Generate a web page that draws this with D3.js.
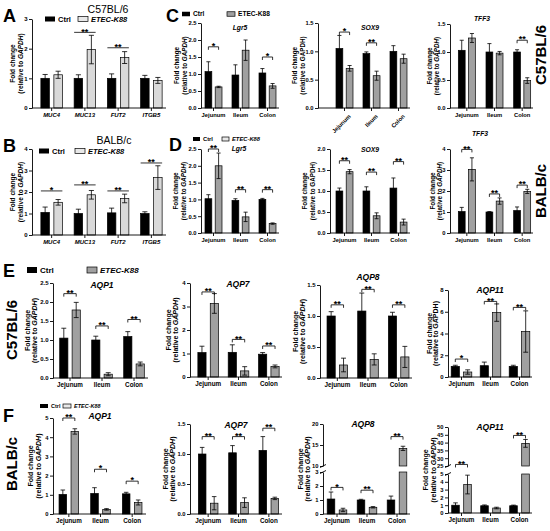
<!DOCTYPE html>
<html>
<head>
<meta charset="utf-8">
<script src="https://cdn.jsdelivr.net/npm/d3@7"></script>
<style>
body { margin: 0; background: #fff; }
svg { font-family: "Liberation Sans", Arial, sans-serif; font-weight: bold; }
</style>
</head>
<body>
<svg width="550" height="531"></svg>
<script>
// ---- data ----
var genesAB = ["MUC4", "MUC13", "FUT2", "ITGB5"];
var regions = ["Jejunum", "Ileum", "Colon"];

var aCtrl = [1.0, 1.0, 1.0, 1.0],    aCtrlSd = [0.13, 0.12, 0.15, 0.1];
var aEtec = [1.12, 1.97, 1.7, 0.93], aEtecSd = [0.12, 0.48, 0.2, 0.1];
var aSig = [{g: "MUC13", y: 2.55, t: "**"}, {g: "FUT2", y: 2.03, t: "**"}];

var bCtrl = [1.05, 1.0, 1.03, 1.0],  bCtrlSd = [0.25, 0.2, 0.22, 0.08];
var bEtec = [1.52, 1.87, 1.7, 2.67], bEtecSd = [0.13, 0.2, 0.2, 0.55];
var bSig = [{g: "MUC4", y: 2.05, t: "*"}, {g: "MUC13", y: 2.33, t: "**"}, {g: "FUT2", y: 2.05, t: "**"}, {g: "ITGB5", y: 3.35, t: "**"}];

var cLgr5Ctrl = [1.07, 0.97, 1.03], cLgr5CtrlSd = [0.29, 0.3, 0.13];
var cLgr5Etec = [0.62, 1.7, 0.65],  cLgr5EtecSd = [0.02, 0.3, 0.07];
var cLgr5Sig = [{g: "Jejunum", y: 1.8, t: "*"}, {g: "Colon", y: 1.5, t: "*"}];

var cSox9Ctrl = [1.05, 0.96, 1.0], cSox9CtrlSd = [0.23, 0.03, 0.1];
var cSox9Etec = [0.7, 0.57, 0.87], cSox9EtecSd = [0.05, 0.08, 0.08];
var cSox9Sig = [{g: "Jejunum", y: 1.34, t: "*"}, {g: "Ileum", y: 1.15, t: "**"}];

var cTff3Ctrl = [1.03, 1.0, 1.0],  cTff3CtrlSd = [0.18, 0.15, 0.04];
var cTff3Etec = [1.25, 0.98, 0.49], cTff3EtecSd = [0.08, 0.03, 0.05];
var cTff3Sig = [{g: "Colon", y: 1.21, t: "**"}];

var dLgr5Ctrl = [1.02, 0.97, 1.0], dLgr5CtrlSd = [0.12, 0.05, 0.03];
var dLgr5Etec = [2.0, 0.48, 0.28], dLgr5EtecSd = [0.38, 0.14, 0.02];
var dLgr5Sig = [{g: "Jejunum", y: 2.5, t: "**"}, {g: "Ileum", y: 1.29, t: "**"}, {g: "Colon", y: 1.29, t: "**"}];

var dSox9Ctrl = [1.0, 1.0, 1.07],  dSox9CtrlSd = [0.07, 0.1, 0.24];
var dSox9Etec = [1.46, 0.41, 0.26], dSox9EtecSd = [0.05, 0.07, 0.07];
var dSox9Sig = [{g: "Jejunum", y: 1.72, t: "**"}, {g: "Ileum", y: 1.45, t: "**"}, {g: "Colon", y: 1.7, t: "**"}];

var dTff3Ctrl = [1.02, 1.0, 1.07], dTff3CtrlSd = [0.2, 0.02, 0.17];
var dTff3Etec = [3.03, 1.52, 1.98], dTff3EtecSd = [0.55, 0.15, 0.1];
var dTff3Sig = [{g: "Jejunum", y: 3.98, t: "**"}, {g: "Ileum", y: 1.86, t: "**"}, {g: "Colon", y: 2.28, t: "**"}];

var eAqp1Ctrl = [1.05, 1.0, 1.09], eAqp1CtrlSd = [0.26, 0.1, 0.13];
var eAqp1Etec = [1.79, 0.1, 0.37], eAqp1EtecSd = [0.2, 0.04, 0.05];
var eAqp1Sig = [{g: "Jejunum", y: 2.22, t: "**"}, {g: "Ileum", y: 1.37, t: "**"}, {g: "Colon", y: 1.54, t: "**"}];

var eAqp7Ctrl = [1.04, 1.05, 0.97], eAqp7CtrlSd = [0.27, 0.32, 0.07];
var eAqp7Etec = [3.13, 0.26, 0.45], eAqp7EtecSd = [0.42, 0.18, 0.06];
var eAqp7Sig = [{g: "Jejunum", y: 3.62, t: "**"}, {g: "Ileum", y: 1.6, t: "**"}, {g: "Colon", y: 1.32, t: "**"}];

var eAqp8Ctrl = [1.0, 1.08, 1.0],  eAqp8CtrlSd = [0.07, 0.29, 0.06];
var eAqp8Etec = [0.21, 0.3, 0.34], eAqp8EtecSd = [0.11, 0.09, 0.17];
var eAqp8Sig = [{g: "Jejunum", y: 1.18, t: "**"}, {g: "Ileum", y: 1.43, t: "**"}, {g: "Colon", y: 1.18, t: "**"}];

var eAqp11Ctrl = [0.98, 1.04, 0.98], eAqp11CtrlSd = [0.1, 0.33, 0.1];
var eAqp11Etec = [0.46, 5.92, 4.18], eAqp11EtecSd = [0.2, 0.8, 1.9];
var eAqp11Sig = [{g: "Jejunum", y: 1.65, t: "*"}, {g: "Ileum", y: 6.95, t: "**"}, {g: "Colon", y: 6.4, t: "**"}];

var fAqp1Ctrl = [1.02, 1.07, 1.05], fAqp1CtrlSd = [0.23, 0.3, 0.08];
var fAqp1Etec = [4.3, 0.24, 0.6],   fAqp1EtecSd = [0.14, 0.04, 0.13];
var fAqp1Sig = [{g: "Jejunum", y: 5.0, t: "**"}, {g: "Ileum", y: 2.33, t: "*"}, {g: "Colon", y: 1.71, t: "*"}];

var fAqp7Ctrl = [1.0, 1.02, 1.06],  fAqp7CtrlSd = [0.11, 0.12, 0.23];
var fAqp7Etec = [0.18, 0.19, 0.26], fAqp7EtecSd = [0.11, 0.08, 0.02];
var fAqp7Sig = [{g: "Jejunum", y: 1.29, t: "**"}, {g: "Ileum", y: 1.29, t: "**"}, {g: "Colon", y: 1.43, t: "**"}];

var fAqp8Ctrl = [1.07, 1.0, 1.0],   fAqp8CtrlSd = [0.5, 0.05, 0.28];
var fAqp8Etec = [0.29, 0.48, 14.2], fAqp8EtecSd = [0.12, 0.05, 0.5];
var fAqp8Sig = [{g: "Jejunum", y: 1.9, t: "*"}, {g: "Ileum", y: 1.7, t: "**"}, {g: "Colon", y: 17, t: "**"}];

var fAqp11Ctrl = [1.0, 0.93, 0.93], fAqp11CtrlSd = [0.3, 0.1, 0.08];
var fAqp11Etec = [3.65, 0.64, 39.5], fAqp11EtecSd = [1.2, 0.1, 2.5];
var fAqp11Sig = [{g: "Jejunum", y: 26, t: "**"}, {g: "Colon", y: 44.6, t: "**"}];

var ticks25 = [0, 0.5, 1, 1.5, 2, 2.5], ticks15 = [0, 0.5, 1, 1.5], ticks20 = [0, 0.5, 1, 1.5, 2];

// ---- drawing ----
var svg = d3.select("svg");
var GRAY = "#a0a0a0", LIGHT = "#d9d9d9";

function yLabel(g, x, y, size, italic) {
  g.append("text").attr("transform", "translate(" + x[0] + "," + y + ") rotate(-90)")
    .attr("text-anchor", "middle").attr("dy", "0.35em").style("font-size", size + "px").text("Fold change");
  var t = g.append("text").attr("transform", "translate(" + x[1] + "," + y + ") rotate(-90)")
    .attr("text-anchor", "middle").attr("dy", "0.35em").style("font-size", size + "px");
  t.append("tspan").text("(relative to ");
  t.append("tspan").style("font-style", italic ? "italic" : "normal").text("GAPDH");
  t.append("tspan").text(")");
}

function panel(c) {
  var g = svg.append("g");
  var x = d3.scaleBand().domain(c.groups).range(c.xr);
  var y, yLow, yHigh;
  if (c.brk) {
    yLow = d3.scaleLinear().domain(c.brk.low).range(c.brk.lowR);
    yHigh = d3.scaleLinear().domain(c.brk.high).range(c.brk.highR);
    y = d3.scaleLinear().domain(c.brk.low.concat(c.brk.high)).range(c.brk.lowR.concat(c.brk.highR));
  } else {
    y = d3.scaleLinear().domain(c.yd).range(c.yr);
  }
  var y0 = y(0);
  var cx = function(d) { return x(d) + x.bandwidth() / 2; };
  var bx = function(d, k) { return k === 0 ? cx(d) - c.gap / 2 - c.bw : cx(d) + c.gap / 2; };

  c.groups.forEach(function(d, i) {
    [[c.ctrl[i], c.ctrlSd[i], "#000"], [c.etec[i], c.etecSd[i], c.fill]].forEach(function(s, k) {
      var v = s[0], e = s[1];
      var segs = (c.brk && v > c.brk.low[1]) ? [[0, c.brk.low[1], yLow], [c.brk.high[0], v, yHigh]] : [[0, v, y]];
      segs.forEach(function(sg) {
        g.append("rect").attr("x", bx(d, k)).attr("width", c.bw)
          .attr("y", sg[2](sg[1])).attr("height", sg[2](sg[0]) - sg[2](sg[1]))
          .attr("fill", s[2]).attr("stroke", "#000").attr("stroke-width", 0.7);
      });
      var mx = bx(d, k) + c.bw / 2, cw = c.bw * 0.3;
      var eb = g.append("g").attr("stroke", "#000").attr("stroke-width", 0.8);
      eb.append("line").attr("x1", mx).attr("x2", mx).attr("y1", y(v - e)).attr("y2", y(v + e));
      eb.append("line").attr("x1", mx - cw).attr("x2", mx + cw).attr("y1", y(v + e)).attr("y2", y(v + e));
      eb.append("line").attr("x1", mx - cw).attr("x2", mx + cw).attr("y1", y(v - e)).attr("y2", y(v - e));
    });
  });

  // y axis
  var axes = c.brk ? [[yLow, c.brk.lowT], [yHigh, c.brk.highT]] : [[y, c.ticks]];
  axes.forEach(function(a) {
    var ax = g.append("g").attr("transform", "translate(" + c.x0 + ",0)")
      .call(d3.axisLeft(a[0]).tickValues(a[1]).tickFormat(d3.format(c.fmt)).tickSize(3).tickSizeOuter(0).tickPadding(1.5));
    ax.selectAll("text").style("font-size", c.tickFont + "px").style("font-family", "inherit").attr("fill", "#000");
    ax.selectAll("line,path").attr("stroke", "#000").attr("stroke-width", 0.9);
  });
  if (c.brk) {
    [c.brk.lowR[1], c.brk.highR[0]].forEach(function(yy) {
      g.append("line").attr("x1", c.x0 - 3).attr("x2", c.x0 + 3).attr("y1", yy + 1.5).attr("y2", yy - 1.5)
        .attr("stroke", "#000").attr("stroke-width", 0.9);
    });
  }

  // x axis
  var xa = g.append("g").attr("transform", "translate(0," + y0 + ")")
    .call(d3.axisBottom(x).tickSize(3).tickSizeOuter(0).tickPadding(2));
  xa.select(".domain").remove();
  xa.selectAll("line").attr("stroke", "#000").attr("stroke-width", 0.9);
  xa.selectAll("text").style("font-size", c.xFont + "px").style("font-family", "inherit")
    .style("font-style", c.xItalic ? "italic" : "normal").attr("fill", "#000");
  if (c.rotate) {
    xa.selectAll("text").attr("text-anchor", "end").attr("dy", "0.3em")
      .attr("transform", "translate(2,4) rotate(-45)");
  }
  g.append("line").attr("x1", c.x0).attr("x2", c.xEnd).attr("y1", y0).attr("y2", y0)
    .attr("stroke", "#000").attr("stroke-width", 0.9);

  // significance
  c.sig.forEach(function(s) {
    var yy = y(s.y), x1, x2;
    if (c.bracket) {
      x1 = bx(s.g, 0) + c.bw / 2; x2 = bx(s.g, 1) + c.bw / 2;
      g.append("path").attr("d", "M" + x1 + "," + (yy + 3) + "V" + yy + "H" + x2 + "V" + (yy + 3))
        .attr("fill", "none").attr("stroke", "#000").attr("stroke-width", 0.8);
    } else {
      x1 = bx(s.g, 0); x2 = bx(s.g, 1) + c.bw;
      g.append("line").attr("x1", x1).attr("x2", x2).attr("y1", yy).attr("y2", yy)
        .attr("stroke", "#000").attr("stroke-width", 0.8);
    }
    g.append("text").attr("x", (x1 + x2) / 2).attr("y", yy + 2.2).attr("text-anchor", "middle")
      .style("font-size", "9px").text(s.t);
  });

  if (c.title) {
    g.append("text").attr("x", c.title[1]).attr("y", c.title[2]).attr("text-anchor", "middle")
      .style("font-size", c.titleFont + "px").style("font-style", "italic").text(c.title[0]);
  }
  var mid = c.brk ? (c.brk.lowR[0] + c.brk.highR[1]) / 2 : (c.yr[0] + c.yr[1]) / 2;
  yLabel(g, [c.x0 + c.lab[0], c.x0 + c.lab[1]], mid, c.labFont, c.gapdhItalic);
}

function legend(x1, x2, y, w, h, size, etecFill, italic) {
  var g = svg.append("g");
  g.append("rect").attr("x", x1).attr("y", y - h / 2).attr("width", w).attr("height", h).attr("fill", "#000");
  g.append("text").attr("x", x1 + w + 3).attr("y", y).attr("dy", "0.35em").style("font-size", size + "px").text("Ctrl");
  g.append("rect").attr("x", x2).attr("y", y - h / 2).attr("width", w).attr("height", h)
    .attr("fill", etecFill).attr("stroke", "#000").attr("stroke-width", 0.7);
  g.append("text").attr("x", x2 + w + 3).attr("y", y).attr("dy", "0.35em").style("font-size", size + "px")
    .style("font-style", italic ? "italic" : "normal").text("ETEC-K88");
}

function label(txt, x, y, size, rot, weight) {
  svg.append("text").attr("transform", "translate(" + x + "," + y + ")" + (rot ? " rotate(-90)" : ""))
    .attr("text-anchor", rot ? "middle" : (weight === "normal" ? "middle" : "start"))
    .style("font-size", size + "px").style("font-weight", weight || "bold").text(txt);
}

var base = {fmt: "d", tickFont: 5.8, xFont: 5.8, labFont: 6.3, titleFont: 6.8, bracket: true, fill: GRAY, gapdhItalic: true, bw: 6.8, gap: 3.4};
function P(o) { return Object.assign({}, base, o); }

// A, B
panel(P({groups: genesAB, x0: 32, xr: [35, 168], xEnd: 166, yd: [0, 3], yr: [108, 19], ticks: [0, 1, 2, 3],
  ctrl: aCtrl, ctrlSd: aCtrlSd, etec: aEtec, etecSd: aEtecSd, sig: aSig, bracket: false, fill: LIGHT,
  bw: 8.5, gap: 4.5, xItalic: true, lab: [-19, -11], labFont: 6.5, tickFont: 6, xFont: 6}));
panel(P({groups: genesAB, x0: 32, xr: [35, 168], xEnd: 166, yd: [0, 4], yr: [235, 149], ticks: [0, 1, 2, 3, 4],
  ctrl: bCtrl, ctrlSd: bCtrlSd, etec: bEtec, etecSd: bEtecSd, sig: bSig, bracket: false, fill: LIGHT,
  bw: 8.5, gap: 4.5, xItalic: true, lab: [-19, -11], labFont: 6.5, tickFont: 6, xFont: 6}));

// C
panel(P({groups: regions, x0: 201, xr: [200, 281], xEnd: 279, yd: [0, 2.5], yr: [108, 23], ticks: ticks25, fmt: ".1f",
  ctrl: cLgr5Ctrl, ctrlSd: cLgr5CtrlSd, etec: cLgr5Etec, etecSd: cLgr5EtecSd, sig: cLgr5Sig,
  title: ["Lgr5", 240, 30], lab: [-24, -16]}));
panel(P({groups: regions, x0: 318, xr: [331, 412], xEnd: 410, yd: [0, 1.5], yr: [108, 23], ticks: ticks15, fmt: ".1f",
  ctrl: cSox9Ctrl, ctrlSd: cSox9CtrlSd, etec: cSox9Etec, etecSd: cSox9EtecSd, sig: cSox9Sig,
  title: ["SOX9", 370, 30], lab: [-23, -15], gapdhItalic: false, rotate: true}));
panel(P({groups: regions, x0: 450, xr: [453, 536], xEnd: 533, yd: [0, 1.5], yr: [108, 24], ticks: ticks15, fmt: ".1f",
  ctrl: cTff3Ctrl, ctrlSd: cTff3CtrlSd, etec: cTff3Etec, etecSd: cTff3EtecSd, sig: cTff3Sig,
  title: ["TFF3", 482, 21], lab: [-20, -13]}));

// D
panel(P({groups: regions, x0: 201, xr: [200, 281], xEnd: 279, yd: [0, 2.5], yr: [233, 149], ticks: ticks25, fmt: ".1f",
  ctrl: dLgr5Ctrl, ctrlSd: dLgr5CtrlSd, etec: dLgr5Etec, etecSd: dLgr5EtecSd, sig: dLgr5Sig,
  title: ["Lgr5", 239, 151], lab: [-25, -17]}));
panel(P({groups: regions, x0: 330, xr: [331, 412], xEnd: 410, yd: [0, 2], yr: [233, 149], ticks: ticks20, fmt: ".1f",
  ctrl: dSox9Ctrl, ctrlSd: dSox9CtrlSd, etec: dSox9Etec, etecSd: dSox9EtecSd, sig: dSox9Sig,
  title: ["SOX9", 370, 152], lab: [-25, -17], gapdhItalic: false}));
panel(P({groups: regions, x0: 450, xr: [453, 536], xEnd: 533, yd: [0, 4], yr: [233, 149], ticks: [0, 1, 2, 3, 4],
  ctrl: dTff3Ctrl, ctrlSd: dTff3CtrlSd, etec: dTff3Etec, etecSd: dTff3EtecSd, sig: dTff3Sig,
  title: ["TFF3", 480, 136], lab: [-17, -10]}));

// E
var baseE = {bw: 8.2, gap: 4.2, titleFont: 8.5, labFont: 7, tickFont: 6, xFont: 6.3};
panel(P(Object.assign({groups: regions, x0: 53, xr: [54, 150], xEnd: 148, yd: [0, 2.5], yr: [378, 283], ticks: ticks25, fmt: ".1f",
  ctrl: eAqp1Ctrl, ctrlSd: eAqp1CtrlSd, etec: eAqp1Etec, etecSd: eAqp1EtecSd, sig: eAqp1Sig,
  title: ["AQP1", 102, 288], lab: [-25, -18]}, baseE)));
panel(P(Object.assign({groups: regions, x0: 190, xr: [193, 284], xEnd: 282, yd: [0, 4], yr: [377, 283], ticks: [0, 1, 2, 3, 4],
  ctrl: eAqp7Ctrl, ctrlSd: eAqp7CtrlSd, etec: eAqp7Etec, etecSd: eAqp7EtecSd, sig: eAqp7Sig,
  title: ["AQP7", 238, 287], lab: [-21, -14]}, baseE)));
panel(P(Object.assign({groups: regions, x0: 320, xr: [322, 414], xEnd: 412, yd: [0, 1.5], yr: [378, 285], ticks: ticks15, fmt: ".1f",
  ctrl: eAqp8Ctrl, ctrlSd: eAqp8CtrlSd, etec: eAqp8Etec, etecSd: eAqp8EtecSd, sig: eAqp8Sig,
  title: ["AQP8", 368, 280], lab: [-24, -17]}, baseE)));
panel(P(Object.assign({groups: regions, x0: 448, xr: [447, 534], xEnd: 532, yd: [0, 8], yr: [377, 290], ticks: [0, 2, 4, 6, 8],
  ctrl: eAqp11Ctrl, ctrlSd: eAqp11CtrlSd, etec: eAqp11Etec, etecSd: eAqp11EtecSd, sig: eAqp11Sig,
  title: ["AQP11", 490, 293], lab: [-18, -12], gapdhItalic: false}, baseE)));

// F
var baseF = {bw: 7.6, gap: 4.4, titleFont: 8.5, labFont: 7, tickFont: 5.8, xFont: 6.3};
panel(P(Object.assign({groups: regions, x0: 53, xr: [53, 148], xEnd: 146, yd: [0, 5], yr: [514, 418], ticks: [0, 1, 2, 3, 4, 5],
  ctrl: fAqp1Ctrl, ctrlSd: fAqp1CtrlSd, etec: fAqp1Etec, etecSd: fAqp1EtecSd, sig: fAqp1Sig,
  title: ["AQP1", 100, 419], lab: [-22, -14]}, baseF)));
panel(P(Object.assign({groups: regions, x0: 190, xr: [193, 284], xEnd: 282, yd: [0, 1.5], yr: [514, 424], ticks: ticks15, fmt: ".1f",
  ctrl: fAqp7Ctrl, ctrlSd: fAqp7CtrlSd, etec: fAqp7Etec, etecSd: fAqp7EtecSd, sig: fAqp7Sig,
  title: ["AQP7", 236, 428], lab: [-24, -17]}, baseF)));
panel(P(Object.assign({groups: regions, x0: 323, xr: [322, 412], xEnd: 410,
  brk: {low: [0, 3], lowR: [514, 472], high: [10, 20], highR: [466, 424], lowT: [0, 1, 2, 3], highT: [10, 15, 20]},
  ctrl: fAqp8Ctrl, ctrlSd: fAqp8CtrlSd, etec: fAqp8Etec, etecSd: fAqp8EtecSd, sig: fAqp8Sig,
  title: ["AQP8", 363, 427], lab: [-22, -15]}, baseF)));
panel(P(Object.assign({groups: regions, x0: 448, xr: [447, 534], xEnd: 532, tickFont: 5.3,
  brk: {low: [0, 5], lowR: [513, 474], high: [25, 50], highR: [466, 427], lowT: [0, 1, 2, 3, 4, 5], highT: [25, 30, 35, 40, 45, 50]},
  ctrl: fAqp11Ctrl, ctrlSd: fAqp11CtrlSd, etec: fAqp11Etec, etecSd: fAqp11EtecSd, sig: fAqp11Sig,
  title: ["AQP11", 490, 430], lab: [-22, -14]}, baseF)));

// legends
legend(45, 78, 19, 10, 5, 7.5, "#e8e8e8", true);
legend(39, 75, 151, 10, 5, 7.5, "#e8e8e8", true);
legend(182, 227, 14, 8, 4.5, 6.6, GRAY, false);
legend(193, 222, 139, 7, 4, 5.8, "#e8e8e8", true);
legend(27, 87, 270, 10, 6, 8, GRAY, true);
legend(40, 63, 406, 8, 4, 5.5, "#e8e8e8", true);

// panel letters and strain labels
label("A", 3, 22, 18); label("B", 3, 152, 18); label("C", 166, 22, 18);
label("D", 169, 151, 18); label("E", 3, 277, 18); label("F", 3, 422, 18);
label("C57BL/6", 108, 12.5, 10.5, false, "normal");
label("BALB/c", 114, 144, 10.5, false, "normal");
label("C57BL/6", 546, 55, 15, true);
label("BALB/c", 546, 191, 15, true);
label("C57BL/6", 17, 330, 15, true);
label("BALB/c", 17, 464, 15, true);
</script>
</body>
</html>
